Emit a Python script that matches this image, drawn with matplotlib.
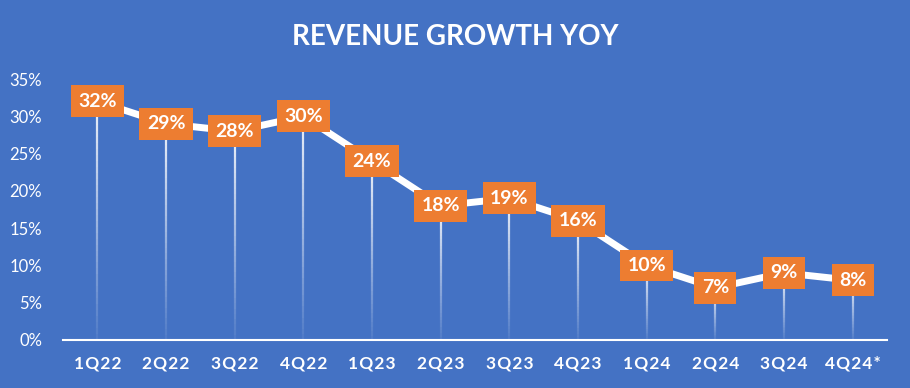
import matplotlib
matplotlib.use('Agg')
import matplotlib.pyplot as plt
from matplotlib.collections import LineCollection
import numpy as np

quarters = ["1Q22", "2Q22", "3Q22", "4Q22", "1Q23", "2Q23",
            "3Q23", "4Q23", "1Q24", "2Q24", "3Q24", "4Q24*"]
growth = [32, 29, 28, 30, 24, 18, 19, 16, 10, 7, 9, 8]
yticks = [0, 5, 10, 15, 20, 25, 30, 35]

BG = "#4472C4"
ORANGE = "#ED7D31"

plt.rcParams['font.family'] = ['Lato', 'DejaVu Sans']

fig = plt.figure(figsize=(9.1, 3.88), dpi=100, facecolor=BG)
ax = fig.add_axes([63 / 910, 48 / 388, 824 / 910, 261 / 388], facecolor=BG)

x = np.arange(len(quarters))

# drop lines fading towards the axis
segs, cols = [], []
n = 40
for xi, v in zip(x, growth):
    ys = np.linspace(v, 0, n + 1)
    for k in range(n):
        segs.append([(xi, ys[k]), (xi, ys[k + 1])])
        cols.append((1, 1, 1, 0.85 * (1 - k / n) + 0.05))
ax.add_collection(LineCollection(segs, colors=cols, linewidths=1.6, zorder=1))

ax.plot(x, growth, color="white", lw=5, solid_joinstyle='round', zorder=2)

for xi, v in zip(x, growth):
    ax.annotate(f"{v}%", (xi, v), ha="center", va="center", color="white",
                fontsize=14, fontweight="bold", zorder=3,
                bbox=dict(boxstyle="square,pad=0.38", fc=ORANGE, ec="none"))

# spaced-out category labels
spaced = ["\u200a".join(q) for q in quarters]

ax.set_xlim(-0.5, len(quarters) - 0.5)
ax.set_ylim(0, 35)
ax.set_xticks(x)
ax.set_xticklabels(spaced, fontsize=12.5, fontweight="bold", color="white")
ax.set_yticks(yticks)
ax.set_yticklabels([f"{t}%" for t in yticks], fontsize=12, color="white")
ax.tick_params(length=0, pad=11)
ax.tick_params(axis='y', pad=15)
for s in ["top", "right", "left"]:
    ax.spines[s].set_visible(False)
ax.spines["bottom"].set_color("white")
ax.spines["bottom"].set_linewidth(1.5)

fig.text(455 / 910, 1 - 37 / 388, "REVENUE GROWTH YOY", ha="center", va="center",
         color="white", fontsize=20, fontweight="bold")

fig.savefig("out.png", dpi=100, facecolor=BG)
